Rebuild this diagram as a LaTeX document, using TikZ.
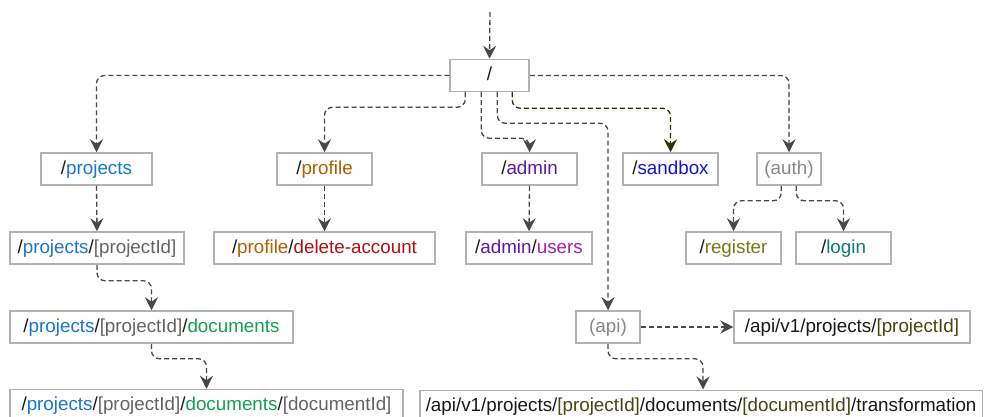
\documentclass[tikz,border=0pt]{standalone}
\usepackage{fontspec}
\setmainfont{Liberation Sans}
\usetikzlibrary{arrows.meta,calc}

\definecolor{boxline}{RGB}{178,178,178}
\definecolor{wire}{RGB}{72,72,72}
\definecolor{wireolive}{RGB}{51,51,0}
\definecolor{cproj}{RGB}{25,118,210}
\definecolor{cprof}{RGB}{176,96,0}
\definecolor{cdel}{RGB}{176,16,16}
\definecolor{cadmin}{RGB}{96,24,160}
\definecolor{cusers}{RGB}{170,30,170}
\definecolor{csand}{RGB}{20,20,210}
\definecolor{cgroup}{RGB}{136,136,136}
\definecolor{creg}{RGB}{120,120,20}
\definecolor{clogin}{RGB}{20,120,120}
\definecolor{cdocs}{RGB}{20,160,80}
\definecolor{cparam}{RGB}{100,100,100}
\definecolor{capiparam}{RGB}{70,70,20}

\tikzset{
  route/.style={draw=boxline, line width=1.5pt, fill=white, minimum height=32pt,
    inner xsep=6pt, inner ysep=0pt, text height=14.5pt, text depth=4pt,
    font=\fontsize{18.8}{22}\selectfont, text=black!90},
  link/.style={draw=wire, line width=1.3pt, dash pattern=on 5pt off 3pt,
    rounded corners=8pt, -{Stealth[length=13pt,width=13pt,inset=4.5pt]}},
}

\begin{document}
\begin{tikzpicture}[x=1pt,y=-1pt]
\useasboundingbox (0,0) rectangle (984,417);

% route nodes
\node[route, minimum width=79pt] (root) at (489.5,75.5) {/};
\coordinate (entry) at (490,12);

\node[route, minimum width=111pt] (projects) at (96.5,169) {/\textcolor{cproj}{projects}};
\node[route, minimum width=95pt] (profile) at (324.5,169) {/\textcolor{cprof}{profile}};
\node[route, minimum width=95pt] (admin) at (529.5,169) {/\textcolor{cadmin}{admin}};
\node[route, minimum width=95pt] (sandbox) at (670.5,169) {/\textcolor{csand}{sandbox}};
\node[route, minimum width=64pt, text=cgroup] (auth) at (789,169) {(auth)};

\node[route, minimum width=174pt] (pid) at (97,248) {/\textcolor{cproj}{projects}/\textcolor{cparam}{[projectId]}};
\node[route, minimum width=221pt] (del) at (324.5,248) {/\textcolor{cprof}{profile}/\textcolor{cdel}{delete-account}};
\node[route, minimum width=126pt] (users) at (529,248) {/\textcolor{cadmin}{admin}/\textcolor{cusers}{users}};
\node[route, minimum width=95pt] (register) at (733.5,248) {/\textcolor{creg}{register}};
\node[route, minimum width=95pt] (login) at (843.5,248) {/\textcolor{clogin}{login}};

\node[route, minimum width=283pt] (docs) at (151.5,327) {/\textcolor{cproj}{projects}/\textcolor{cparam}{[projectId]}/\textcolor{cdocs}{documents}};
\node[route, minimum width=64pt, text=cgroup] (api) at (608,327) {(api)};
\node[route, minimum width=236pt] (apiproj) at (852,327) {/api/v1/projects/\textcolor{capiparam}{[projectId]}};

\node[route, minimum width=393pt] (docid) at (206.5,405.5) {/\textcolor{cproj}{projects}/\textcolor{cparam}{[projectId]}/\textcolor{cdocs}{documents}/\textcolor{cparam}{[documentId]}};
\node[route, anchor=north west] (trans) at (419,389.5) {/api/v1/projects/\textcolor{capiparam}{[projectId]}/documents/\textcolor{capiparam}{[documentId]}/transformation};

% connectors
\draw[link] (entry) -- (root.north);
\draw[link] (root.west) -| (projects.north);
\draw[link] ($(root.south west)+(16,0)$) -- ++(0,15) -| (profile.north);
\draw[link] ($(root.south west)+(32,0)$) -- ++(0,46) -| (admin.north);
\draw[link] ($(root.south west)+(48,0)$) -- ++(0,31) -| (api.north);
\draw[link, draw=wireolive] ($(root.south west)+(63,0)$) -- ++(0,16) -| (sandbox.north);
\draw[link] (root.east) -| (auth.north);

\draw[link] (projects.south) -- (pid.north);
\draw[link] (profile.south) -- (del.north);
\draw[link] (admin.south) -- (users.north);
\draw[link] ($(auth.south west)+(25,0)$) -- ++(0,15) -| (register.north);
\draw[link] ($(auth.south west)+(40,0)$) -- ++(0,15) -| (login.north);

\draw[link] (pid.south) -- ++(0,16) -| (docs.north);
\draw[link] (docs.south) -- ++(0,15) -| (docid.north);
\draw[link] (api.east) -- (apiproj.west);
\draw[link] (api.south) -- ++(0,15) -| ($(trans.north west)+(284,0)$);
\end{tikzpicture}
\end{document}
